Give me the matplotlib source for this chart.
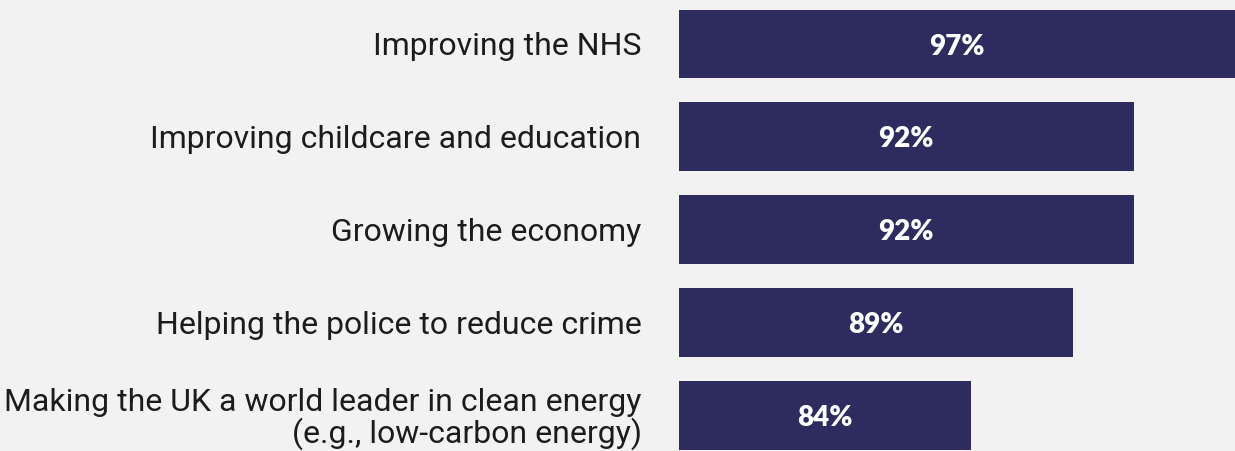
import matplotlib.pyplot as plt

categories = [
    "Improving the NHS",
    "Improving childcare and education",
    "Growing the economy",
    "Helping the police to reduce crime",
    "Making the UK a world leader in clean energy\n(e.g., low-carbon energy)",
]
values = [97, 92, 92, 89, 84]

bar_color = "#2e2c5e"
bg = "#f2f2f2"

fig = plt.figure(figsize=(12.35, 4.51), dpi=100, facecolor=bg)
ax = fig.add_axes([679 / 1235, 0, 1 - 679 / 1235, 1])
ax.set_facecolor(bg)

ypos = list(range(len(values)))
bars = ax.barh(ypos, values, height=0.737, color=bar_color, left=0)
ax.set_xlim(69.6, 97)
ax.set_ylim(4.384, -0.471)

for y, v in zip(ypos, values):
    ax.text((69.6 + v) / 2, y + 0.03, f"{v}%", ha="center", va="center",
            color="white", fontsize=20, fontweight="heavy", family="Lato")

ax.set_yticks(ypos)
ax.set_yticklabels(categories, fontsize=23, family="Roboto", color="#1c1c1c",
                   ha="right", linespacing=1.0)
ax.tick_params(axis="y", length=0, pad=27)
ax.set_xticks([])
for s in ax.spines.values():
    s.set_visible(False)

fig.savefig("out.png", facecolor=bg)
